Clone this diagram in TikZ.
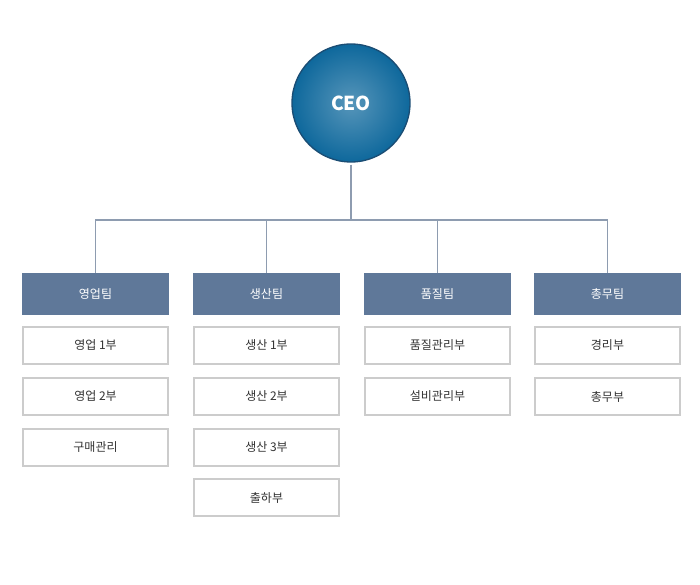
\documentclass[tikz,border=0pt]{standalone}
\usepackage{fontspec}
\newfontfamily\kr{Noto Sans CJK KR}
\usetikzlibrary{positioning}
\definecolor{teamblue}{HTML}{5F7899}
\definecolor{ceoblue}{HTML}{0E689C}
\definecolor{ceoedge}{HTML}{1B4D74}
\definecolor{boxgray}{HTML}{CCCCCC}
\definecolor{linegray}{HTML}{8E9CB0}
\begin{document}
\begin{tikzpicture}[x=0.75pt,y=-0.75pt,
  team/.style={fill=teamblue,text=white,minimum width=110.25pt,minimum height=31.5pt,
               inner sep=0pt,font=\kr\small},
  part/.style={draw=boxgray,line width=1.2pt,fill=white,text=black!80,minimum width=108.5pt,
               minimum height=27.75pt,inner sep=0pt,font=\kr\small},
  link/.style={draw=linegray,line width=1.2pt}]
  \useasboundingbox (0,0) rectangle (700,585);

  \node[circle,draw=ceoedge,line width=1pt,inner color=ceoblue!70!white,outer color=ceoblue,
        minimum size=88.5pt,text=white,font=\kr\Large\bfseries] (ceo) at (351,103) {CEO};

  \node[team] (t1) at (95.5,294) {영업팀};
  \node[team] (t2) at (266.5,294) {생산팀};
  \node[team] (t3) at (437.5,294) {품질팀};
  \node[team] (t4) at (607.5,294) {총무팀};

  \node[part] (a1) at (95.5,345.5) {영업 1부};
  \node[part] (a2) at (95.5,396.5) {영업 2부};
  \node[part] (a3) at (95.5,447.5) {구매관리};
  \node[part] (b1) at (266.5,345.5) {생산 1부};
  \node[part] (b2) at (266.5,396.5) {생산 2부};
  \node[part] (b3) at (266.5,447.5) {생산 3부};
  \node[part] (b4) at (266.5,497.5) {출하부};
  \node[part] (c1) at (437.5,345.5) {품질관리부};
  \node[part] (c2) at (437.5,396.5) {설비관리부};
  \node[part] (d1) at (607.5,345.5) {경리부};
  \node[part] (d2) at (607.5,396.5) {총무부};

  \coordinate (hub) at (351,220);
  \path[link] (ceo.south) ++(0,2) -- (hub);
  \foreach \t in {t1,t2,t3,t4}
    \path[link] (hub) -| (\t.north);
\end{tikzpicture}
\end{document}
